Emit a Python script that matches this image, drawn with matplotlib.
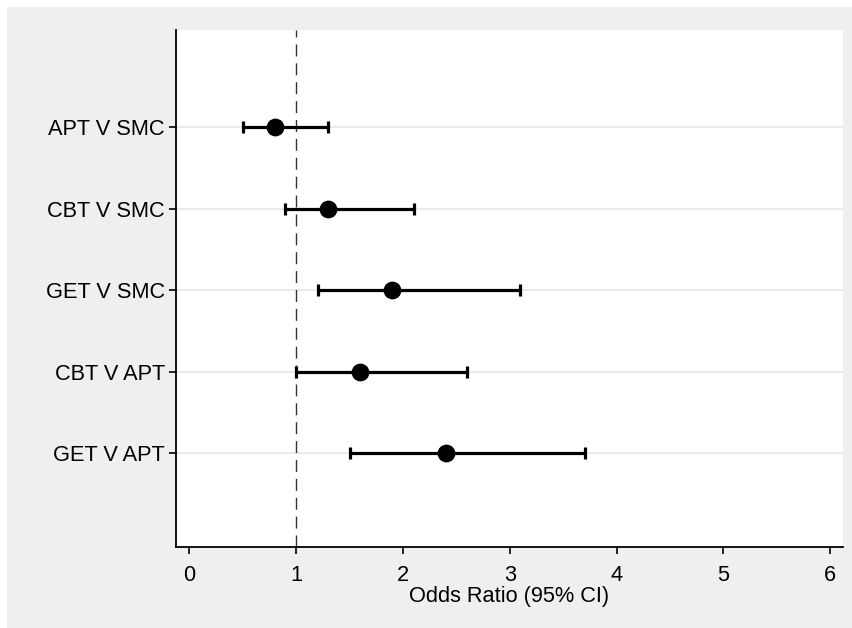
import matplotlib

matplotlib.use("Agg")
import matplotlib.pyplot as plt
from matplotlib.patches import Rectangle

# forest plot data
comparisons = ["APT V SMC", "CBT V SMC", "GET V SMC", "CBT V APT", "GET V APT"]
odds_ratio = [0.8, 1.3, 1.9, 1.6, 2.4]
ci_low = [0.5, 0.9, 1.2, 1.0, 1.5]
ci_high = [1.3, 2.1, 3.1, 2.6, 3.7]
x_ticks = [0, 1, 2, 3, 4, 5, 6]

plt.rcParams["font.family"] = ["Liberation Sans", "DejaVu Sans"]

fig = plt.figure(figsize=(8.52, 6.28), dpi=100)
fig.patch.set_facecolor("white")
fig.patches.append(
    Rectangle((7 / 852, 0), 1, 1 - 7 / 628, transform=fig.transFigure,
              facecolor="#efefef", edgecolor="none", zorder=-1)
)

ax = fig.add_axes([176 / 852, 1 - 547 / 628, (843 - 176) / 852, (547 - 30) / 628])
ax.set_facecolor("white")

ypos = list(range(len(comparisons), 0, -1))
err_lo = [o - l for o, l in zip(odds_ratio, ci_low)]
err_hi = [h - o for o, h in zip(odds_ratio, ci_high)]

for y in ypos:
    ax.axhline(y, color="#e6e6e6", lw=1.2, zorder=0)
ax.axvline(1, color="#333333", lw=1.0, ls=(0, (8.6, 5)), zorder=1)

ax.errorbar(odds_ratio, ypos, xerr=[err_lo, err_hi], fmt="o", color="black",
            ms=11.8, elinewidth=2.3, capsize=4, capthick=2.3, zorder=3)

ax.set_xlim(-0.125, 6.12)
ax.set_ylim(-0.15, 6.19)
ax.set_xticks(x_ticks)
ax.set_yticks(ypos)
ax.set_yticklabels(comparisons)
ax.tick_params(axis="both", labelsize=15.7, length=5, width=1.2, color="black")
ax.tick_params(axis="y", pad=3)
ax.tick_params(axis="x", pad=8)
ax.set_xlabel("Odds Ratio (95% CI)", fontsize=15.7, labelpad=0)

for side in ("top", "right"):
    ax.spines[side].set_visible(False)
for side in ("left", "bottom"):
    ax.spines[side].set_linewidth(1.3)

fig.savefig("out.png", dpi=100)
